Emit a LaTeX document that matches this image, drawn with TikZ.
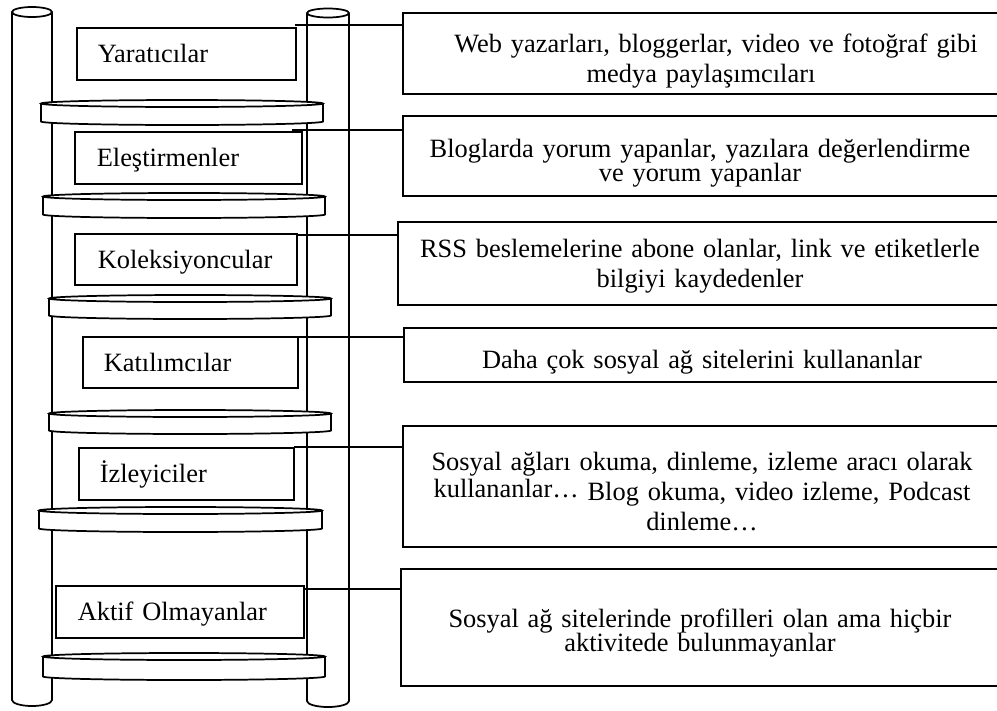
\documentclass[tikz,border=0pt]{standalone}
\usepackage{fontspec}
\setmainfont{Liberation Serif}
\newcommand\labfont{\fontsize{19.8pt}{22.5pt}\selectfont\lineskiplimit=-20pt}
\newcommand\tightfont{\fontsize{19.8pt}{18pt}\selectfont\lineskiplimit=-20pt}
\begin{document}
\begin{tikzpicture}[x=0.75pt,y=-0.75pt,
  ladder/.style={draw, line width=1.3pt, fill=white},
  lbox/.style={draw, line width=1.2pt, fill=white, anchor=north west,
    inner ysep=0pt, text height=13.5pt, text depth=0pt, align=left, font=\labfont},
  rbox/.style={draw, line width=1.3pt, fill=white, anchor=north west, inner sep=0pt},
  desc/.style={anchor=base, text width=440pt, align=center, inner sep=0pt, font=\labfont},
  desctight/.style={desc, font=\tightfont},
  conn/.style={line width=1.3pt}]
\useasboundingbox (0,0) rectangle (997,711);

% uprights of the ladder
\draw[ladder] (12,12) -- (12,700) arc[start angle=180, end angle=0, x radius=20, y radius=6] -- (52,12);
\draw[ladder] (32,12) ellipse [x radius=20, y radius=5];
\draw[ladder] (307,13) -- (307,701) arc[start angle=180, end angle=0, x radius=21, y radius=6] -- (349,13);
\draw[ladder] (328,13) ellipse [x radius=21, y radius=4.5];

% rungs
\foreach \xl/\xr/\yt/\yb in {41/323/100/125, 43/325/193/218, 49/331/295/319,
                            49/331/410/434, 39/322/507/532, 43/325/653/680} {
  \pgfmathsetmacro\rx{(\xr-\xl)/2}
  \pgfmathsetmacro\cx{(\xr+\xl)/2}
  \draw[ladder] (\xl,\yt+3.5) -- (\xl,\yb-3.5)
     arc[start angle=180, end angle=0, x radius=\rx, y radius=3.5] -- (\xr,\yt+3.5);
  \draw[ladder] (\cx,\yt+3.5) ellipse [x radius=\rx, y radius=3.5];
}

% user types on the rungs
\node[lbox, inner xsep=15.75pt, text width=132.75pt, minimum height=39pt] (l1) at (76,27) {\mbox{Yaratıcılar}};
\node[lbox, inner xsep=16.5pt, text width=137.25pt, minimum height=39pt] (l2) at (74,131) {\mbox{Eleştirmenler}};
\node[lbox, inner xsep=17.25pt, text width=132pt, minimum height=38.25pt] (l3) at (74,233) {\mbox{Koleksiyoncular}};
\node[lbox, inner xsep=15.75pt, text width=129.75pt, minimum height=38.25pt] (l4) at (82,336) {\mbox{Katılımcılar}};
\node[lbox, inner xsep=15.75pt, text width=129.75pt, minimum height=39pt] (l5) at (78,447) {\mbox{İzleyiciler}};
\node[lbox, inner xsep=16.5pt, text width=153pt, minimum height=39pt] (l6) at (55,585) {\mbox{Aktif Olmayanlar}};

% description boxes
\node[rbox, minimum width=450.75pt, minimum height=60.75pt] (r1) at (402,12) {};
\node[rbox, minimum width=450.75pt, minimum height=60pt] (r2) at (402,115) {};
\node[rbox, minimum width=454.5pt, minimum height=62.25pt] (r3) at (397,221) {};
\node[rbox, minimum width=450pt, minimum height=40.5pt] (r4) at (403,327) {};
\node[rbox, minimum width=450.75pt, minimum height=90.75pt] (r5) at (402,425) {};
\node[rbox, minimum width=452.25pt, minimum height=87.75pt] (r6) at (400,568) {};

\node[desc] (t1) at (701,52) {\hspace*{22.5pt}Web yazarları, bloggerlar, video ve fotoğraf gibi\\ medya paylaşımcıları};
\node[desctight] (t2) at (700,157) {Bloglarda yorum yapanlar, yazılara değerlendirme\\ ve yorum yapanlar};
\node[desc] (t3) at (700,257) {RSS beslemelerine abone olanlar, link ve etiketlerle\\ bilgiyi kaydedenler};
\node[desc] (t4) at (702,368) {Daha çok sosyal ağ sitelerini kullananlar};
\node[desc] (t5) at (702,470) {Sosyal ağları okuma, dinleme, izleme aracı olarak\\ \raisebox{2.25pt}{kullananlar…} Blog okuma, video izleme, Podcast\\ dinleme…};
\node[desctight] (t6) at (700,627) {Sosyal ağ sitelerinde profilleri olan ama hiçbir\\ aktivitede bulunmayanlar};

% connectors from each rung label to its description
\coordinate (c1) at ([shift={(-2,-2)}]l1.north east);
\coordinate (c2) at ([shift={(-11,-1)}]l2.north east);
\coordinate (c3) at ([shift={(0,2)}]l3.north east);
\coordinate (c4) at ([shift={(0,1)}]l4.north east);
\coordinate (c5) at ([shift={(-1,0)}]l5.north east);
\coordinate (c6) at ([shift={(0,4)}]l6.north east);
\foreach \i in {1,...,6} \draw[conn] (c\i) -- (c\i -| r\i.west);
\end{tikzpicture}
\end{document}
